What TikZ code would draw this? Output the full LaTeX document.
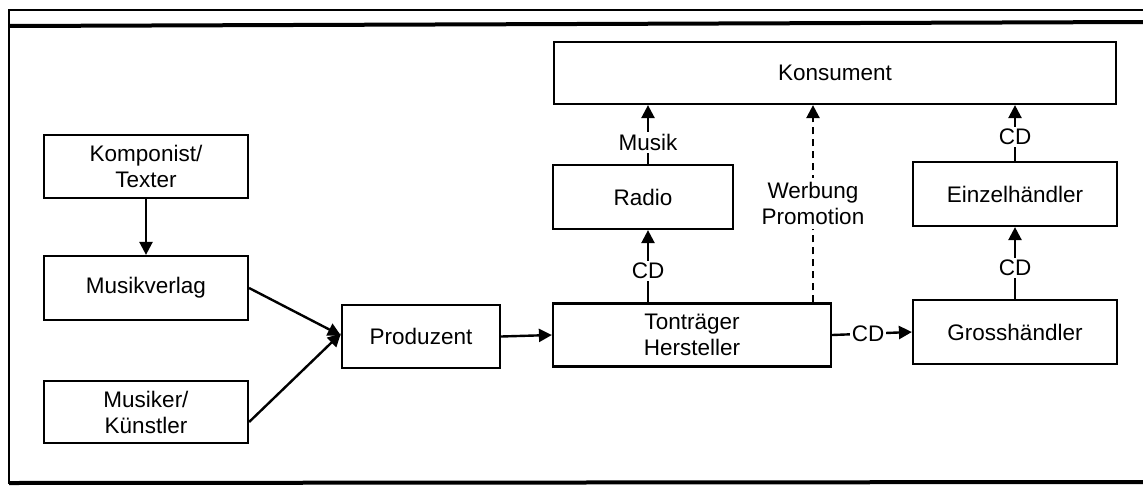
\documentclass[tikz,border=0pt]{standalone}
\usepackage{fontspec}
\setmainfont{Liberation Sans}
\usetikzlibrary{arrows.meta}
\begin{document}
\begin{tikzpicture}[x=1pt,y=-1pt,
  box/.style={draw, line width=2.2pt, rectangle, align=center, font=\fontsize{22.5}{26}\selectfont, inner sep=0pt},
  conn/.style={line width=2.4pt, -{Triangle[length=13pt,width=13pt]}},
  dconn/.style={line width=2.4pt, dash pattern=on 7pt off 5pt, -{Triangle[length=13pt,width=13pt]}},
  lbl/.style={fill=white, inner sep=2pt, font=\fontsize{22.5}{26}\selectfont, align=center}]
\useasboundingbox (0,0) rectangle (1143,488);
% frame
\draw[line width=2pt] (1143,10) -- (9,10) -- (9,484);
\draw[line width=4pt] (9,26) -- (1143,22);
\draw[line width=4pt] (9,483) -- (1143,482);
% nodes
\node[box, minimum width=204pt, minimum height=63pt] (komp) at (146,166.5) {Komponist/\\Texter};
\node[box, minimum width=204pt, minimum height=64pt] (verlag) at (146,288) {Musikverlag};
\node[box, minimum width=204pt, minimum height=62pt] (musiker) at (146,412) {Musiker/\\Künstler};
\node[box, minimum width=158pt, minimum height=63pt] (prod) at (421,336.5) {Produzent};
\node[box, minimum width=278pt, minimum height=63pt] (ton) at (692,335) {Tonträger\\Hersteller};
\node[box, minimum width=204pt, minimum height=64pt] (gross) at (1015,332) {Grosshändler};
\node[box, minimum width=204pt, minimum height=64pt] (einzel) at (1015,194) {Einzelhändler};
\node[box, minimum width=180pt, minimum height=64pt] (radio) at (643,197) {Radio};
\node[box, minimum width=562pt, minimum height=62pt] (kons) at (835,73) {Konsument};
% helper x positions
\coordinate (xa) at (648,0);
\coordinate (xw) at (813,0);
% connectors
\draw[conn] (komp.south) -- (verlag.north);
\draw[conn] (verlag.east) -- ([yshift=1pt]prod.west);
\draw[conn] ([yshift=-10pt]musiker.east) -- ([yshift=3pt]prod.west);
\draw[conn] (prod.east) -- (ton.west);
\draw[conn] (ton.east) -- node[lbl, pos=0.45] {CD} (gross.west);
\draw[conn] (xa |- ton.north) -- node[lbl, pos=0.44] {CD} (xa |- radio.south);
\draw[conn] (xa |- radio.north) -- node[lbl, pos=0.36] {Musik} (xa |- kons.south);
\draw[dconn] (xw |- ton.north) -- node[lbl, pos=0.5, inner sep=4pt] {Werbung\\Promotion} (xw |- kons.south);
\draw[conn] (gross.north) -- node[lbl, pos=0.43] {CD} (einzel.south);
\draw[conn] (einzel.north) -- node[lbl, pos=0.43] {CD} (einzel.north |- kons.south);
\end{tikzpicture}
\end{document}
